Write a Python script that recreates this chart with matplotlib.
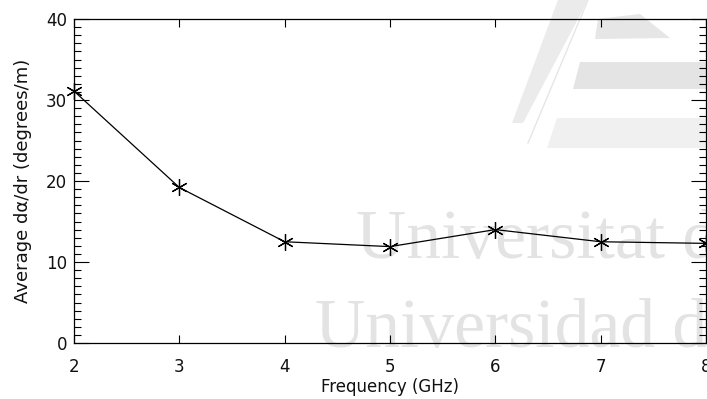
import matplotlib
matplotlib.use("Agg")
import matplotlib.pyplot as plt
from matplotlib.patches import Polygon
from matplotlib.ticker import MultipleLocator

# Measured data: average phase-gradient vs frequency
frequency_ghz = [2, 3, 4, 5, 6, 7, 8]
avg_dalpha_dr = [31.1, 19.2, 12.5, 11.9, 14.0, 12.5, 12.3]

x_ticks = [2, 3, 4, 5, 6, 7, 8]
y_ticks = [0, 10, 20, 30, 40]
x_label = "Frequency (GHz)"
y_label = "Average d\u03b1/dr (degrees/m)"

W, H = 707, 399
fig = plt.figure(figsize=(W / 100, H / 100), dpi=100)
fig.patch.set_facecolor("white")


def px(x, y):
    """Convert pixel coords (origin top-left) to figure fraction."""
    return (x / W, 1 - y / H)


# Faint institutional watermark behind the plot
for pts, col in [
    ([(558, 0), (588, 0), (523, 123), (512, 123)], "#ebebeb"),
    ([(598, 19), (640, 14), (670, 38), (595, 39)], "#e6e6e6"),
    ([(580, 62), (707, 62), (707, 89), (573, 89)], "#e4e4e4"),
    ([(557, 118), (707, 118), (707, 148), (547, 148)], "#f0f0f0"),
]:
    fig.patches.append(Polygon([px(*p) for p in pts], closed=True,
                               transform=fig.transFigure, facecolor=col,
                               edgecolor="none", zorder=-2))
fig.lines.append(plt.Line2D([588 / W, 528 / W], [1.0, 1 - 143 / H],
                            transform=fig.transFigure, color="#e6e6e6",
                            lw=1.0, zorder=-2))
fig.text(*px(356, 258), "Universitat d", fontsize=50, family="Liberation Serif",
         color="#e3e3e3", ha="left", va="baseline", zorder=-1)
fig.text(*px(315, 347), "Universidad d", fontsize=50, family="Liberation Serif",
         color="#e3e3e3", ha="left", va="baseline", zorder=-1)

ax = fig.add_axes([74 / W, 1 - 343 / H, (706 - 74) / W, (343 - 19) / H])
ax.patch.set_visible(False)

ax.plot(frequency_ghz, avg_dalpha_dr, color="black", lw=0.9,
        marker=(6, 2, 0), markersize=12, markeredgewidth=0.9,
        markeredgecolor="black", clip_on=False)

ax.set_xlim(2, 8)
ax.set_ylim(0, 40)
ax.set_xticks(x_ticks)
ax.set_yticks(y_ticks)
ax.yaxis.set_minor_locator(MultipleLocator(1))

for s in ax.spines.values():
    s.set_linewidth(0.9)
    s.set_color("black")

ax.tick_params(axis="both", which="both", direction="in", top=True, right=True,
               color="black", width=0.8, labelcolor="#111111")
ax.tick_params(axis="x", which="major", length=6, labelsize=12, pad=11)
ax.tick_params(axis="y", which="major", length=11, labelsize=12, pad=5)
ax.tick_params(axis="y", which="minor", length=5)

ax.set_xlabel(x_label, fontsize=12, labelpad=1, color="#111111")
ax.set_ylabel(y_label, fontsize=13, labelpad=10, color="#111111")

fig.savefig("out.png", dpi=100, facecolor="white")
